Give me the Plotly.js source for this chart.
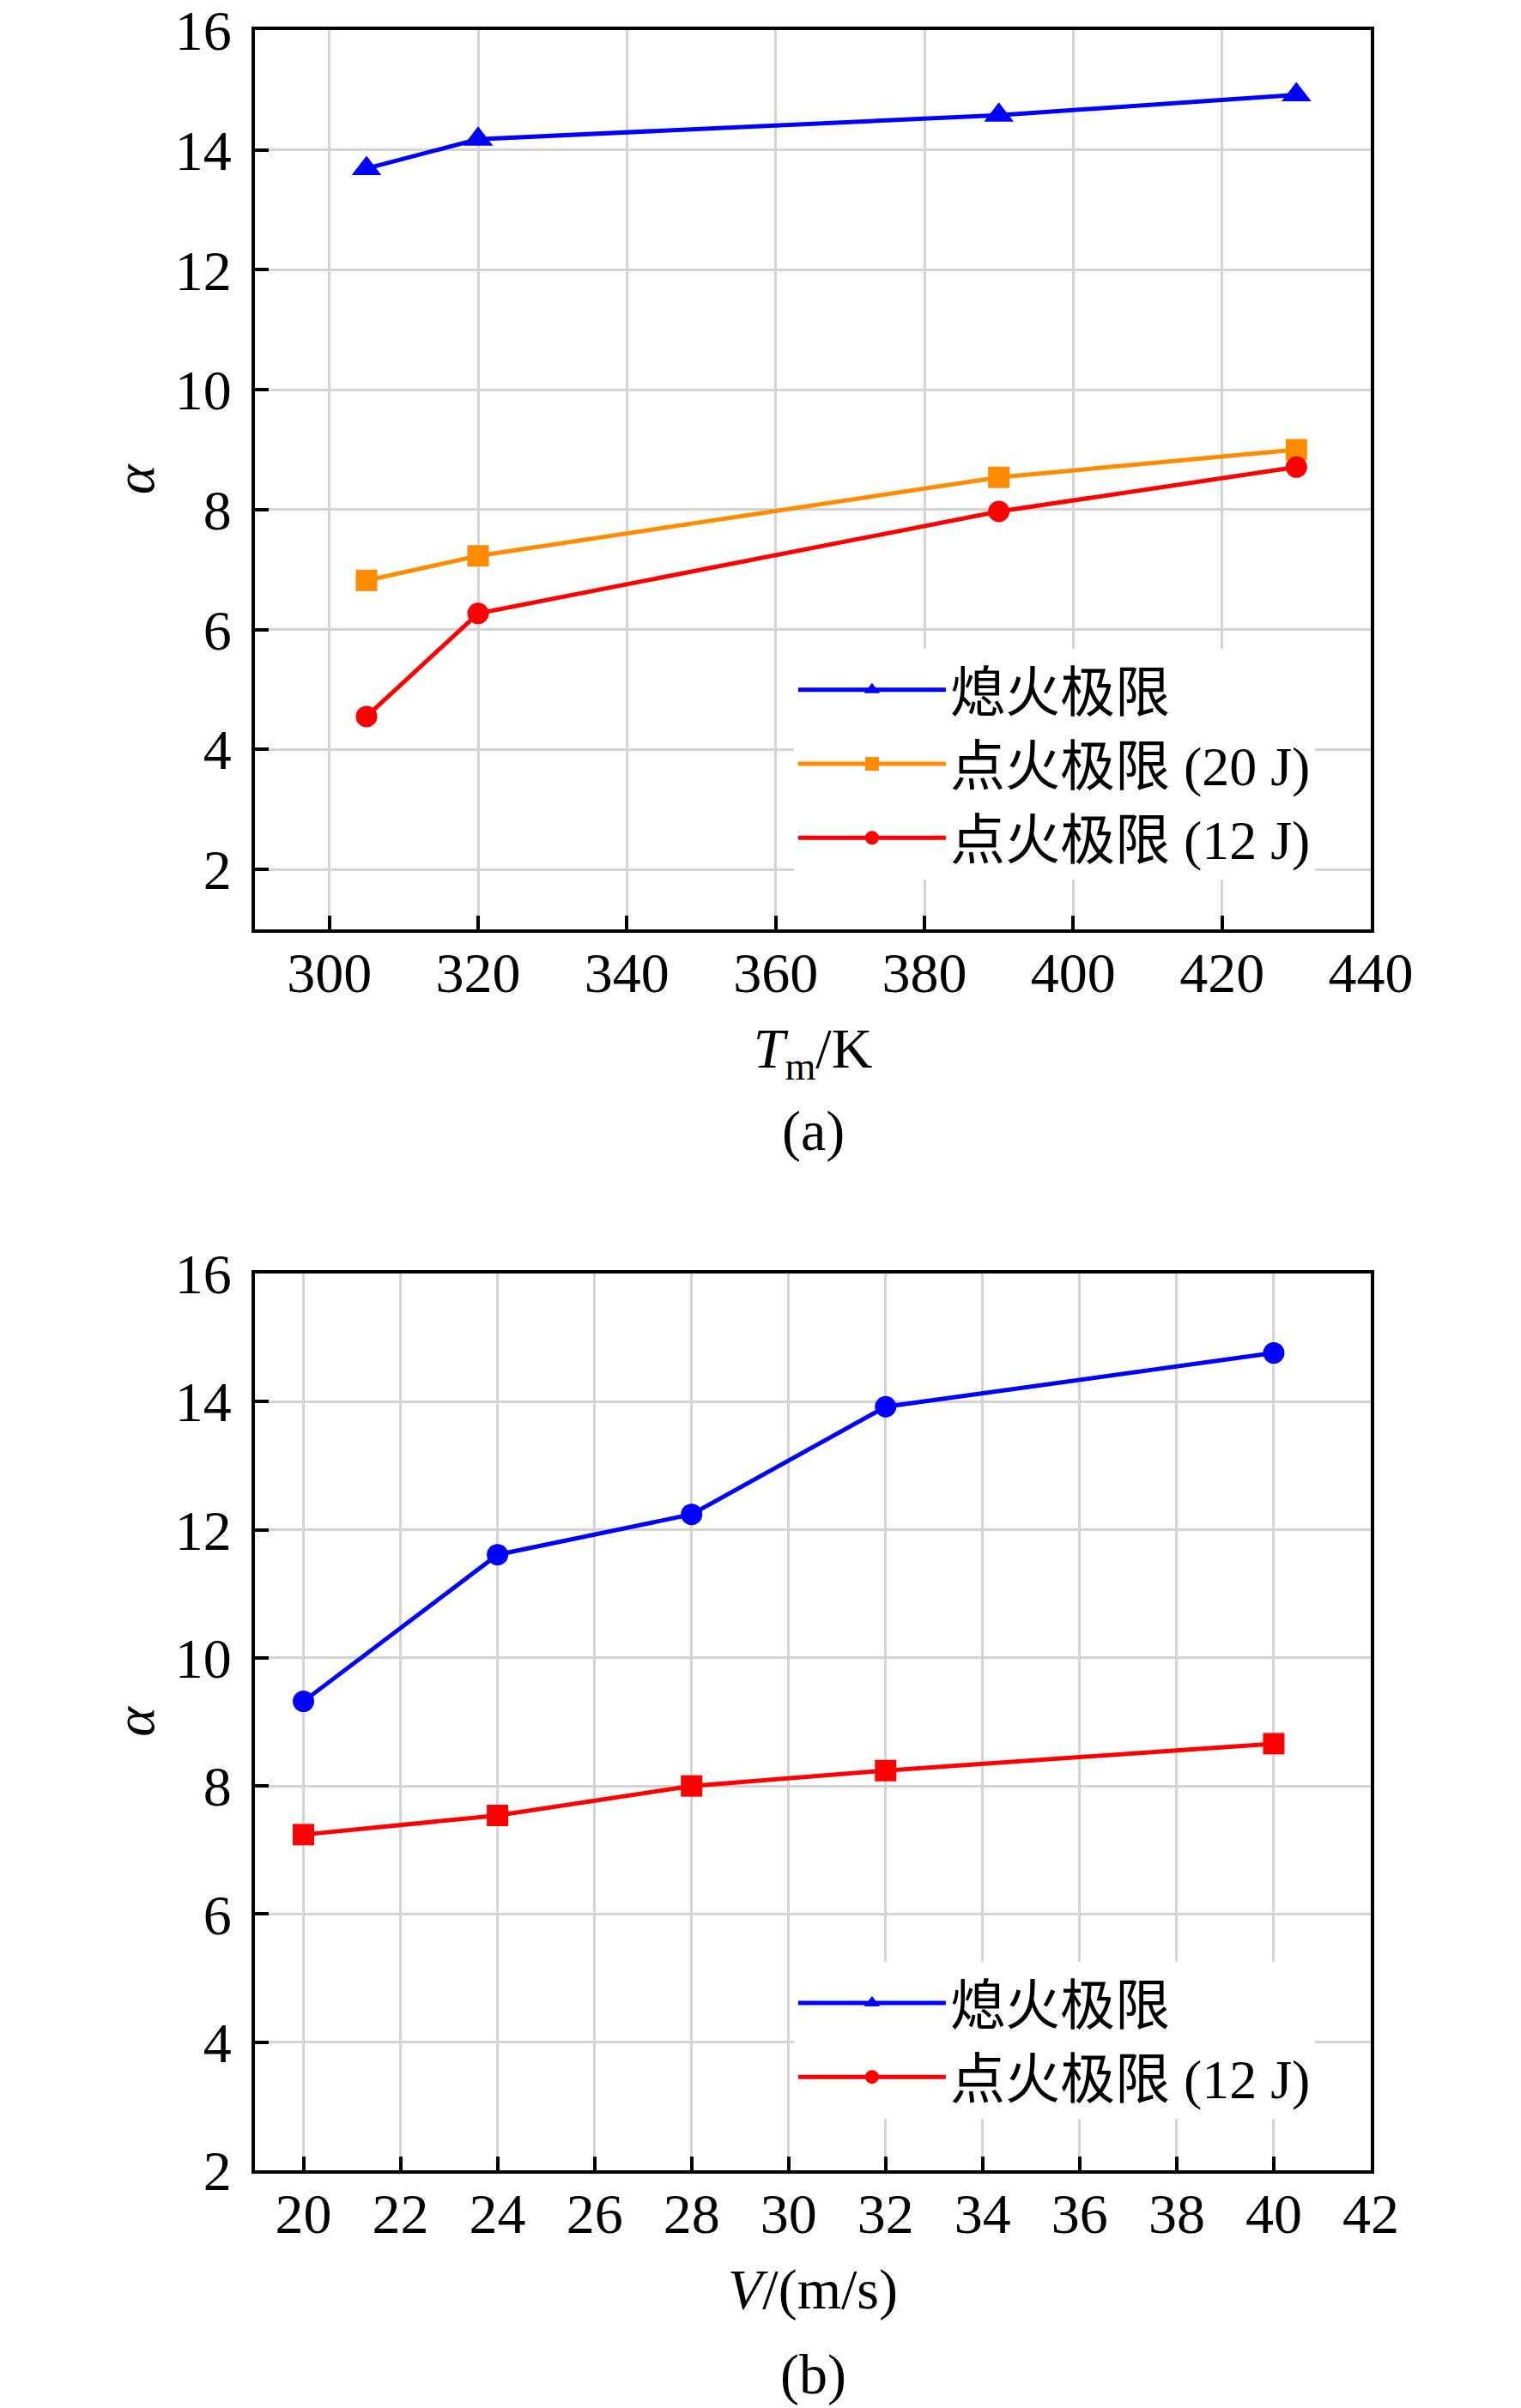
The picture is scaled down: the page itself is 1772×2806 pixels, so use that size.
<!DOCTYPE html>
<html>
<head>
<meta charset="utf-8">
<script src="https://cdn.plot.ly/plotly-3.0.1.min.js"></script>
<style>
  html, body { margin: 0; padding: 0; background: #fff; }
  #chart { width: 1772px; height: 2806px; }
</style>
</head>
<body>
<div id="chart"></div>
<script>
// (a) alpha vs mixture temperature
const tempK = [305, 320, 390, 430];
const blowoutT = [13.69, 14.18, 14.58, 14.92];
const ign20T = [6.82, 7.23, 8.54, 9.0];
const ign12T = [4.55, 6.27, 7.97, 8.71];

// (b) alpha vs inflow velocity
const velocity = [20, 24, 28, 32, 40];
const blowoutV = [9.32, 11.61, 12.24, 13.92, 14.76];
const ign12V = [7.24, 7.54, 8.0, 8.24, 8.66];

const legendNames = ["熄火极限", "点火极限 (20 J)", "点火极限 (12 J)"];

const BLUE = "#0000ff";
const ORANGE = "#ff8c00";
const RED = "#ff0000";
const FONT = 'Liberation Serif, "Noto Sans CJK SC", serif';

function lineTrace(x, y, color, symbol, name, xa, ya, legend, show) {
  return {
    x: x,
    y: y,
    type: "scatter",
    mode: "lines+markers",
    name: name,
    xaxis: xa,
    yaxis: ya,
    legend: legend,
    showlegend: show,
    line: { color: color, width: 5 },
    marker: { color: color, symbol: symbol, size: symbol === "triangle-up" ? 30 : 25 },
  };
}

var data = [
  lineTrace(tempK, blowoutT, BLUE, "triangle-up", legendNames[0], "x", "y", "legend", true),
  lineTrace(tempK, ign20T, ORANGE, "square", legendNames[1], "x", "y", "legend", true),
  lineTrace(tempK, ign12T, RED, "circle", legendNames[2], "x", "y", "legend", true),
  // panel (b): plotted markers differ from the legend symbols in the figure
  lineTrace(velocity, blowoutV, BLUE, "circle", legendNames[0], "x2", "y2", "legend2", false),
  lineTrace(velocity, ign12V, RED, "square", legendNames[2], "x2", "y2", "legend2", false),
  lineTrace([null], [null], BLUE, "triangle-up", legendNames[0], "x2", "y2", "legend2", true),
  lineTrace([null], [null], RED, "circle", legendNames[2], "x2", "y2", "legend2", true),
];

function xAxis(range, dtick, title, anchor) {
  return {
    range: range,
    dtick: dtick,
    tick0: 0,
    anchor: anchor,
    showline: true,
    mirror: true,
    linecolor: "#000",
    linewidth: 4,
    ticks: "inside",
    ticklen: 16,
    tickwidth: 4,
    tickcolor: "#000",
    showgrid: true,
    gridcolor: "#d4d4d4",
    gridwidth: 3,
    zeroline: false,
    ticklabelstandoff: -10,
    ticklabeloverflow: "allow",
    tickfont: { family: FONT, size: 66, color: "#000" },
    title: { text: title, font: { family: FONT, size: 66, color: "#000" }, standoff: 30 },
  };
}

function yAxis(range, domain, anchor) {
  return {
    range: range,
    domain: domain,
    dtick: 2,
    tick0: 0,
    anchor: anchor,
    showline: true,
    mirror: true,
    linecolor: "#000",
    linewidth: 4,
    ticks: "inside",
    ticklen: 16,
    tickwidth: 4,
    tickcolor: "#000",
    showgrid: true,
    gridcolor: "#d4d4d4",
    gridwidth: 3,
    zeroline: false,
    ticklabelstandoff: 10,
    ticklabeloverflow: "allow",
    tickfont: { family: FONT, size: 66, color: "#000" },
    title: { text: "<i>α</i>", font: { family: FONT, size: 66, color: "#000" }, standoff: 4 },
  };
}

var legendStyle = {
  bgcolor: "#ffffff",
  borderwidth: 0,
  xanchor: "left",
  yanchor: "top",
  itemwidth: 172,
  font: { family: FONT, size: 64, color: "#000" },
};

var annFont = { family: FONT, size: 66, color: "#000" };

var layout = {
  width: 1772,
  height: 2806,
  margin: { l: 297, r: 175, t: 35, b: 277 },
  paper_bgcolor: "#fff",
  plot_bgcolor: "#fff",
  font: { family: FONT, color: "#000" },
  xaxis: xAxis([290, 440], 20, "<i>T</i><sub>m</sub>/K", "y"),
  yaxis: yAxis([1, 16.0001], [0.5798, 1], "x"),
  xaxis2: xAxis([19, 42], 2, "<i>V</i>/(m/s)", "y2"),
  yaxis2: yAxis([2, 16.0001], [0, 0.419], "x2"),
  legend: Object.assign({}, legendStyle, { x: 0.483, y: 0.711 }),
  legend2: Object.assign({}, legendStyle, { x: 0.483, y: 0.0975 }),
  annotations: [
    { text: "(a)", xref: "paper", yref: "paper", x: 0.5, y: 1 - (1318 - 35) / 2494,
      xanchor: "center", yanchor: "middle", showarrow: false, font: annFont },
    { text: "(b)", xref: "paper", yref: "paper", x: 0.5, y: 1 - (2767 - 35) / 2494,
      xanchor: "center", yanchor: "middle", showarrow: false, font: annFont },
  ],
};

Plotly.newPlot("chart", data, layout, { displayModeBar: false, staticPlot: true });
</script>
</body>
</html>
